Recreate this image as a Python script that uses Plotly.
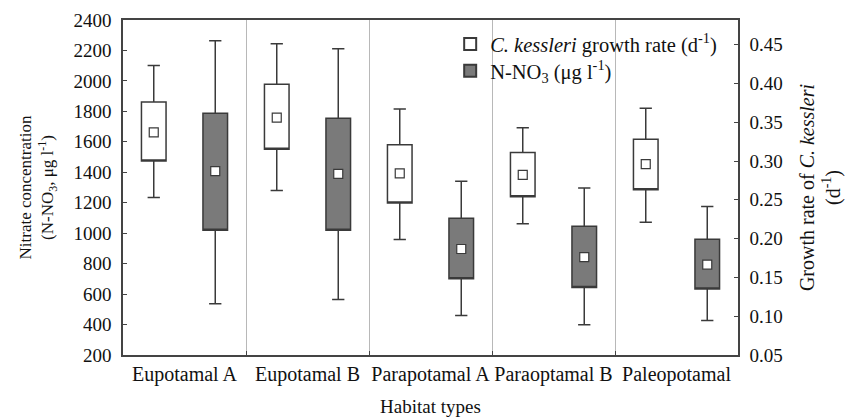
import plotly.graph_objects as go

categories = ["Eupotamal A", "Eupotamal B", "Parapotamal A", "Paraoptamal B", "Paleopotamal"]

# C. kessleri growth rate (d-1), right axis
growth_mean = [0.337, 0.356, 0.284, 0.282, 0.296]
growth_box_low = [0.300, 0.315, 0.246, 0.254, 0.263]
growth_box_high = [0.376, 0.399, 0.321, 0.311, 0.328]
growth_whisker_low = [0.253, 0.262, 0.199, 0.219, 0.221]
growth_whisker_high = [0.423, 0.451, 0.367, 0.343, 0.368]

# N-NO3 (ug l-1), left axis
nitrate_mean = [1407, 1389, 896, 843, 793]
nitrate_box_low = [1019, 1019, 701, 644, 633]
nitrate_box_high = [1788, 1755, 1098, 1045, 960]
nitrate_whisker_low = [537, 565, 460, 399, 427]
nitrate_whisker_high = [2264, 2211, 1341, 1297, 1175]

idx = list(range(len(categories)))
x_growth = [i - 0.25 for i in idx]
x_nitrate = [i + 0.25 for i in idx]
separators = [i + 0.5 for i in idx[:-1]]

FONT = "Liberation Serif, Times New Roman, serif"
LINE = "#3a3a3a"
AX = "#444444"

fig = go.Figure()

fig.add_trace(go.Box(
    name="<i>C. kessleri</i> growth rate (d<sup>-1</sup>)",
    x=x_growth, q1=growth_box_low, q3=growth_box_high, median=growth_box_low,
    lowerfence=growth_whisker_low, upperfence=growth_whisker_high,
    width=0.2, whiskerwidth=0.5, fillcolor="white",
    line=dict(color=LINE, width=1.5), yaxis="y2", hoverinfo="skip",
    legend="legend",
))
fig.add_trace(go.Box(
    name="N-NO<sub>3</sub> (μg l<sup>-1</sup>)",
    x=x_nitrate, q1=nitrate_box_low, q3=nitrate_box_high, median=nitrate_box_low,
    lowerfence=nitrate_whisker_low, upperfence=nitrate_whisker_high,
    width=0.2, whiskerwidth=0.5, fillcolor="#7a7a7a",
    line=dict(color=LINE, width=1.5), yaxis="y", hoverinfo="skip",
    legend="legend2",
))
fig.add_trace(go.Scatter(
    x=x_growth, y=growth_mean, mode="markers", yaxis="y2", showlegend=False,
    marker=dict(symbol="square", size=9, color="white", line=dict(color=LINE, width=1.2)),
))
fig.add_trace(go.Scatter(
    x=x_nitrate, y=nitrate_mean, mode="markers", yaxis="y", showlegend=False,
    marker=dict(symbol="square", size=9, color="white", line=dict(color=LINE, width=1.2)),
))

legend_style = dict(xanchor="left", yanchor="middle", bgcolor="rgba(0,0,0,0)",
                    font=dict(size=20.5, family=FONT), itemsizing="constant")

fig.update_layout(
    width=854, height=417,
    margin=dict(l=123, r=116, t=20, b=62),
    paper_bgcolor="white", plot_bgcolor="white",
    font=dict(family=FONT, size=19, color="#111"),
    showlegend=True,
    legend=dict(x=0.532, y=0.928, **legend_style),
    legend2=dict(x=0.532, y=0.848, **legend_style),
    xaxis=dict(
        range=[-0.5, 4.5], tickmode="array", tickvals=idx, ticktext=categories,
        tickangle=0,
        ticks="", showgrid=False, zeroline=False, automargin=False,
        showline=True, linecolor=AX, linewidth=1.5, mirror=True,
        minor=dict(tickvals=separators, showgrid=True, gridcolor="#b8b8b8",
                   gridwidth=1, ticks="inside", ticklen=4, tickcolor=AX),
        title=dict(text="Habitat types", font=dict(size=19), standoff=20),
        tickfont=dict(size=20),
    ),
    yaxis=dict(
        range=[200, 2400], tickmode="linear", tick0=200, dtick=200,
        ticks="inside", ticklen=4, tickcolor=AX, showgrid=False, zeroline=False,
        showline=True, linecolor=AX, linewidth=1.5, automargin=False,
        ticklabelstandoff=6,
        title=dict(text="Nitrate concentration<br>(N-NO<sub>3</sub>, μg l<sup>-1</sup>)",
                   font=dict(size=17), standoff=15),
        tickfont=dict(size=19),
    ),
    yaxis2=dict(
        range=[0.05, 0.4817], overlaying="y", side="right",
        tickmode="linear", tick0=0.05, dtick=0.05, tickformat=".2f",
        ticks="inside", ticklen=4, tickcolor=AX, showgrid=False, zeroline=False,
        showline=True, linecolor=AX, linewidth=1.5, automargin=False,
        ticklabelstandoff=6,
        title=dict(text="Growth rate of <i>C. kessleri</i><br>(d<sup>-1</sup>)",
                   font=dict(size=20), standoff=18),
        tickfont=dict(size=19),
    ),
)

fig.write_html("out.html")
